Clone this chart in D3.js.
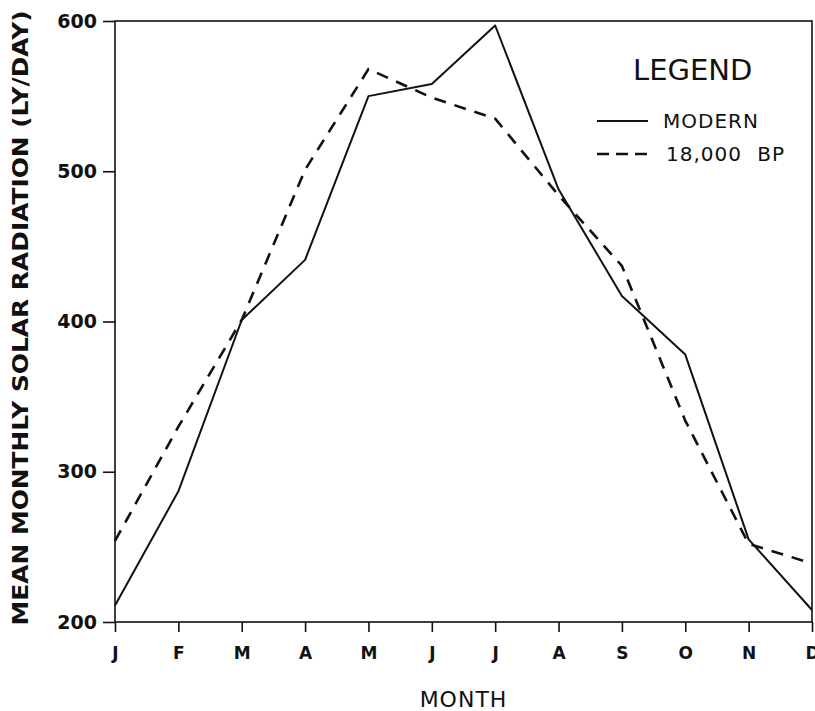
<!DOCTYPE html>
<html>
<head>
<meta charset="utf-8">
<script src="https://cdnjs.cloudflare.com/ajax/libs/d3/7.8.5/d3.min.js"></script>
<style>
  body { margin: 0; background: #fff; }
  svg { display: block; }
</style>
</head>
<body>
<div id="chart"></div>
<script>
// month tick labels (J F M A M J J A S O N D)
var months = ["J", "F", "M", "A", "M", "J", "J", "A", "S", "O", "N", "D"];
// mean monthly solar radiation, ly/day
var modern = [211, 287, 401, 441, 550, 558, 597, 488, 417, 378, 255, 208];
var bp18000 = [254, 330, 401, 501, 568, 549, 535, 484, 437, 334, 252, 239];
var yTicks = [200, 300, 400, 500, 600];
var legendLabels = ["MODERN", "18,000 BP"];

var width = 815, height = 711;
// plot box edges (don't call these top/left, window.top is taken)
var plotL = 115, plotR = 812, plotT = 21, plotB = 622;

var svg = d3.select("#chart")
	.append("svg")
	.attr("width", width)
	.attr("height", height);

var x = d3.scaleLinear().domain([0, months.length - 1]).range([plotL, plotR]);
var y = d3.scaleLinear().domain([200, 600]).range([plotB, plotT]);

// frame round the plot
svg.append("rect")
	.attr("x", plotL)
	.attr("y", plotT)
	.attr("width", plotR - plotL)
	.attr("height", plotB - plotT)
	.style("fill", "none")
	.style("stroke", "#111")
	.style("stroke-width", 1.6);

// y axis
var yAxis = svg.append("g")
	.attr("transform", "translate(" + plotL + ",0)")
	.call(d3.axisLeft(y).tickValues(yTicks).tickSize(12).tickPadding(6));
yAxis.select(".domain").remove();
yAxis.selectAll("line").style("stroke", "#111").style("stroke-width", 1.6);
yAxis.selectAll("text")
	.attr("font-family", "DejaVu Sans")
	.attr("font-weight", "bold")
	.attr("font-size", "19px")
	.style("fill", "#111");

// x axis
var xAxis = svg.append("g")
	.attr("transform", "translate(0," + plotB + ")")
	.call(d3.axisBottom(x)
		.tickValues(d3.range(months.length))
		.tickFormat(function(d) { return months[d]; })
		.tickSize(10).tickPadding(15));
xAxis.select(".domain").remove();
xAxis.selectAll("line").style("stroke", "#111").style("stroke-width", 1.6);
xAxis.selectAll("text")
	.attr("font-family", "DejaVu Sans")
	.attr("font-weight", "bold")
	.attr("font-size", "17px")
	.style("fill", "#111");

// axis titles
svg.append("text")
	.text("MONTH")
	.attr("x", (plotL + plotR) / 2)
	.attr("y", 707)
	.attr("text-anchor", "middle")
	.attr("font-family", "DejaVu Sans")
	.attr("font-size", "22px")
	.attr("letter-spacing", "1px")
	.style("fill", "#111");

svg.append("text")
	.text("MEAN MONTHLY SOLAR RADIATION (LY/DAY)")
	.attr("transform", "translate(28,318) rotate(-90)")
	.attr("text-anchor", "middle")
	.attr("textLength", 615)
	.attr("lengthAdjust", "spacingAndGlyphs")
	.attr("font-family", "DejaVu Sans")
	.attr("font-weight", "bold")
	.attr("font-size", "22px")
	.style("fill", "#111");

// the two series
var line = d3.line()
	.x(function(d, i) { return x(i); })
	.y(function(d) { return y(d); });

svg.append("path")
	.datum(modern)
	.attr("d", line)
	.style("fill", "none")
	.style("stroke", "#111")
	.style("stroke-width", 2)
	.style("stroke-linejoin", "round");

svg.append("path")
	.datum(bp18000)
	.attr("d", line)
	.style("fill", "none")
	.style("stroke", "#111")
	.style("stroke-width", 2.6)
	.style("stroke-dasharray", "12,9");

// legend
svg.append("text")
	.text("LEGEND")
	.attr("x", 633)
	.attr("y", 80)
	.attr("font-family", "DejaVu Sans")
	.attr("font-size", "29px")
	.style("fill", "#111");

var legendStyles = [null, "12,7"];
legendLabels.forEach(function(label, i) {
	var ly = 121 + i * 33;
	svg.append("line")
		.attr("x1", 597).attr("x2", 648)
		.attr("y1", ly).attr("y2", ly)
		.style("stroke", "#111")
		.style("stroke-width", i == 0 ? 2 : 2.6)
		.style("stroke-dasharray", legendStyles[i]);
	svg.append("text")
		.text(label)
		.attr("x", 663 + i * 3)
		.attr("y", ly + 7)
		.attr("font-family", "DejaVu Sans")
		.attr("font-size", "20px")
		.attr("letter-spacing", "1px")
		.attr("word-spacing", "8px")
		.style("fill", "#111");
});
</script>
</body>
</html>
